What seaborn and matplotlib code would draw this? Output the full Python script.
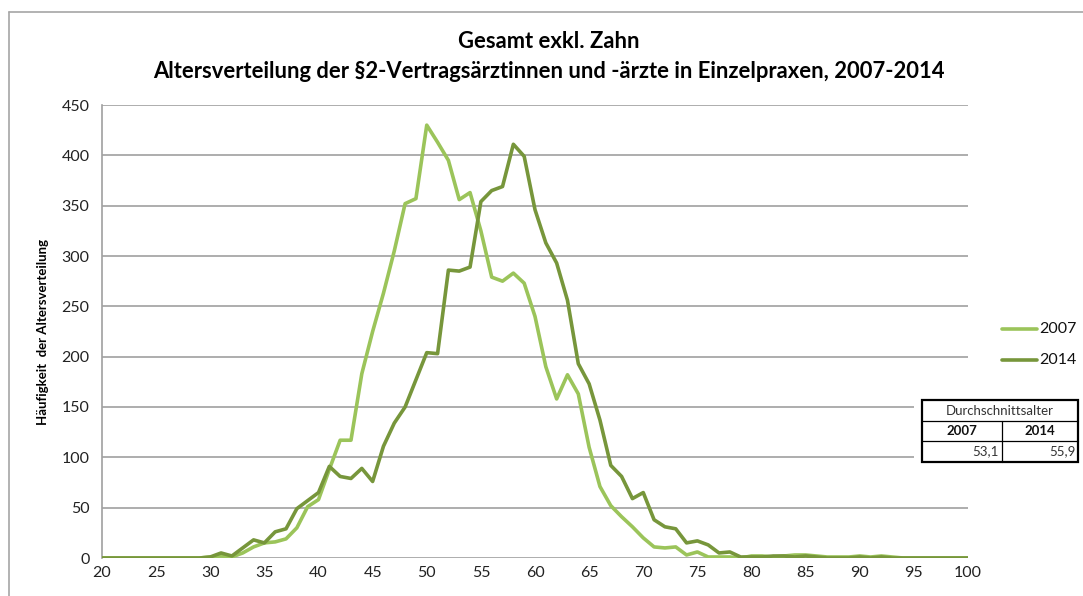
import matplotlib
matplotlib.use("Agg")
import matplotlib.pyplot as plt
import seaborn as sns
import pandas as pd
import numpy as np
from matplotlib.lines import Line2D
from matplotlib.patches import Rectangle

# ---------------- data ----------------
ages = list(range(20, 101))

vals_2007 = [0, 0, 0, 0, 0, 0, 0, 0, 0, 0,          # 20-29
             1, 2, 1, 5, 11, 15, 16, 19, 30, 51,    # 30-39
             58, 88, 117, 117, 183, 225, 263, 305, 352, 357,  # 40-49
             430, 413, 395, 356, 363, 325, 279, 275, 283, 273,  # 50-59
             240, 190, 158, 182, 163, 110, 71, 52, 41, 31,      # 60-69
             20, 11, 10, 11, 3, 6, 1, 1, 1, 0,                  # 70-79
             2, 2, 1, 2, 3, 3, 2, 1, 1, 1,                      # 80-89
             2, 1, 2, 1, 0, 0, 0, 0, 0, 0,                      # 90-99
             0]                                                 # 100

vals_2014 = [0, 0, 0, 0, 0, 0, 0, 0, 0, 0,          # 20-29
             1, 5, 2, 10, 18, 15, 26, 29, 49, 57,   # 30-39
             65, 91, 81, 79, 89, 76, 111, 134, 150, 177,        # 40-49
             204, 203, 286, 285, 289, 354, 365, 369, 411, 399,  # 50-59
             346, 313, 293, 256, 193, 173, 137, 92, 81, 59,     # 60-69
             65, 38, 31, 29, 15, 17, 13, 5, 6, 1,               # 70-79
             1, 1, 2, 2, 1, 2, 1, 0, 0, 0,                      # 80-89
             1, 0, 1, 0, 0, 0, 0, 0, 0, 0,                      # 90-99
             0]                                                 # 100

series_names = ["2007", "2014"]
series_colors = ["#9BC45A", "#77963B"]

x_ticks = list(range(20, 101, 5))
y_ticks = list(range(0, 451, 50))

title_line1 = "Gesamt exkl. Zahn"
title_line2 = "Altersverteilung der §2-Vertragsärztinnen und -ärzte in Einzelpraxen, 2007-2014"
y_label = "Häufigkeit  der Altersverteilung"

table_header = "Durchschnittsalter"
table_years = ["2007", "2014"]
table_means = ["53,1", "55,9"]

# ---------------- figure ----------------
sns.set_theme(style="white")
plt.rcParams["font.family"] = ["Lato", "DejaVu Sans"]

W, H = 1083, 596
fig = plt.figure(figsize=(W / 100, H / 100), dpi=100)
fig.patch.set_facecolor("white")

# outer chart border (left / top visible)
fig.add_artist(Line2D([9 / W, 9 / W], [0, 1 - 12 / H], transform=fig.transFigure,
                      color="#A6A6A6", lw=1.2))
fig.add_artist(Line2D([9 / W, 1], [1 - 12 / H, 1 - 12 / H], transform=fig.transFigure,
                      color="#A6A6A6", lw=1.2))

left, right, top, bottom = 102, 968, 105, 558
ax = fig.add_axes([left / W, 1 - bottom / H, (right - left) / W, (bottom - top) / H])

df = pd.DataFrame({
    "Alter": ages * 2,
    "Wert": vals_2007 + vals_2014,
    "Jahr": [series_names[0]] * len(ages) + [series_names[1]] * len(ages),
})

sns.lineplot(data=df, x="Alter", y="Wert", hue="Jahr",
             palette=dict(zip(series_names, series_colors)),
             linewidth=2.6, ax=ax, legend=False, zorder=3)

ax.set_xlim(20, 100)
ax.set_ylim(0, 450)
ax.set_xticks(x_ticks)
ax.set_yticks(y_ticks)
ax.tick_params(axis="both", labelsize=11.5, colors="#222222", length=0, pad=6)
ax.tick_params(axis="y", pad=9)
ax.grid(axis="y", color="#A0A0A0", lw=1.2)
ax.grid(axis="x", visible=False)
for s in ["top", "right", "bottom"]:
    ax.spines[s].set_visible(False)
ax.spines["left"].set_color("#A0A0A0")
ax.spines["left"].set_linewidth(1.2)
ax.set_xlabel("")
ax.set_ylabel("")

fig.text(549 / W, 1 - 41 / H, title_line1, ha="center", va="center",
         fontsize=15.8, fontweight="bold", color="black")
fig.text(549 / W, 1 - 72 / H, title_line2, ha="center", va="center",
         fontsize=15.8, fontweight="bold", color="black")
fig.text(43 / W, 1 - 332 / H, y_label, rotation=90, ha="center", va="center",
         fontsize=9.5, fontweight="bold", color="black")

# legend
for i, (name, col) in enumerate(zip(series_names, series_colors)):
    yy = 1 - (329 + 31 * i) / H
    fig.add_artist(Line2D([1002 / W, 1037 / W], [yy, yy], transform=fig.transFigure,
                          color=col, lw=2.6))
    fig.text(1039 / W, yy, name, ha="left", va="center", fontsize=11.5, color="#111111")

# summary table
tax = fig.add_axes([914 / W, 1 - 466 / H, (W - 914) / W, 70 / H])
tax.set_xlim(914, W)
tax.set_ylim(466, 396)
tax.axis("off")
tax.add_patch(Rectangle((914, 396), W - 914, 70, facecolor="white", edgecolor="none", zorder=1))
tx0, tx1, tmid = 922, 1078, 1002
ty0, ty1, ty2, ty3 = 400, 421, 441, 462
tax.add_patch(Rectangle((tx0, ty0), tx1 - tx0, ty3 - ty0, facecolor="white",
                        edgecolor="black", lw=1.6, zorder=2))
tax.plot([tx0, tx1], [ty1, ty1], color="black", lw=0.9, zorder=3)
tax.plot([tx0, tx1], [ty2, ty2], color="black", lw=0.9, zorder=3)
tax.plot([tmid, tmid], [ty1, ty3], color="black", lw=0.9, zorder=3)
tax.text((tx0 + tx1) / 2, (ty0 + ty1) / 2, table_header, ha="center", va="center",
         fontsize=9.5, color="#333333", zorder=4)
tax.text((tx0 + tmid) / 2, (ty1 + ty2) / 2, table_years[0], ha="center", va="center",
         fontsize=9.5, fontweight="bold", color="#111111", zorder=4)
tax.text((tmid + tx1) / 2, (ty1 + ty2) / 2, table_years[1], ha="center", va="center",
         fontsize=9.5, fontweight="bold", color="#111111", zorder=4)
tax.text(tmid - 3, (ty2 + ty3) / 2, table_means[0], ha="right", va="center",
         fontsize=9.5, color="#333333", zorder=4)
tax.text(tx1 - 2, (ty2 + ty3) / 2, table_means[1], ha="right", va="center",
         fontsize=9.5, color="#333333", zorder=4)

fig.savefig("out.png", dpi=100, facecolor="white")
